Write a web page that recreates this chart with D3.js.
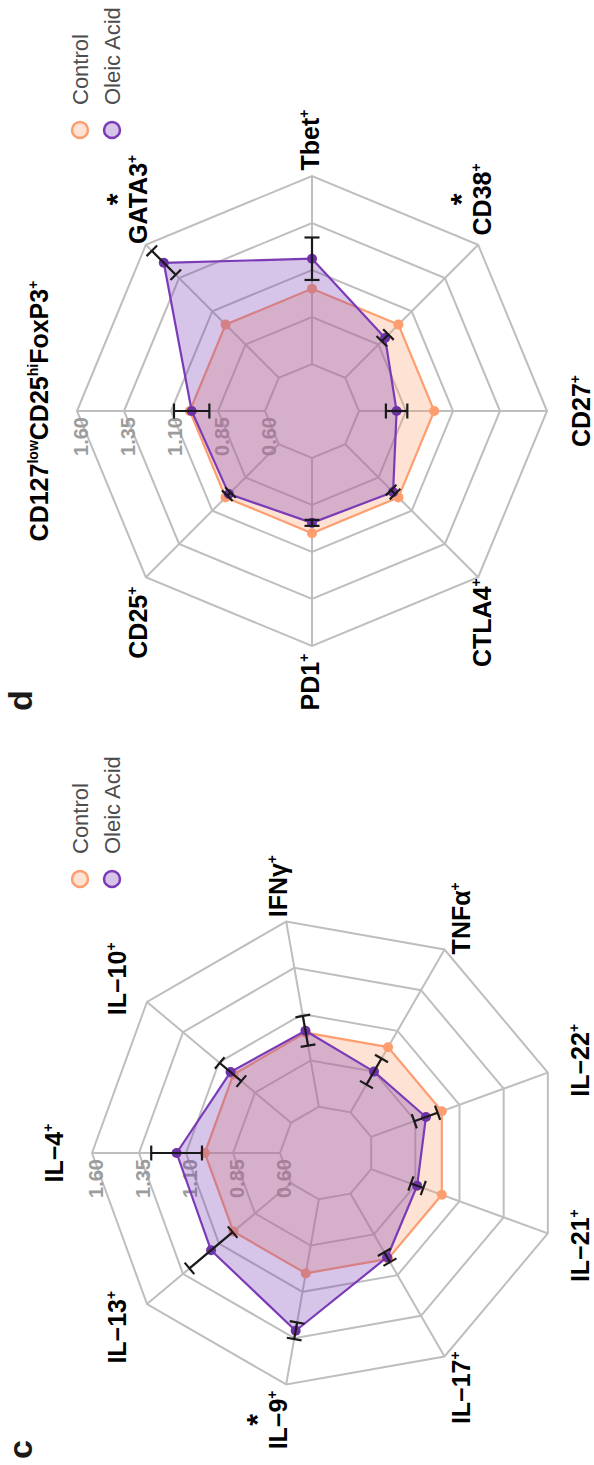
<!DOCTYPE html>
<html>
<head>
<meta charset="utf-8">
<script src="https://cdn.jsdelivr.net/npm/d3@7"></script>
<style>
  html, body { margin: 0; padding: 0; background: #fff; }
  svg { display: block; }
</style>
</head>
<body>
<script>
// Radial gridline values and their labels
const ticks = [0.60, 0.85, 1.10, 1.35, 1.60];
const tickLabels = ["0.60", "0.85", "1.10", "1.35", "1.60"];
const seriesNames = ["Control", "Oleic Acid"];

// Panel c: cytokine-producing cells (text segments alternate normal / superscript)
const cAxes = [["IL−4", "+"], ["IL−10", "+"], ["IFNγ", "+"], ["TNFα", "+"], ["IL−22", "+"],
               ["IL−21", "+"], ["IL−17", "+"], ["IL−9", "+"], ["IL−13", "+"]];
const cControl = [1.00, 1.00, 1.00, 1.00, 1.00, 1.00, 1.00, 1.00, 1.00];
const cOleic   = [1.15, 1.02, 1.01, 0.85, 0.91, 0.86, 0.99, 1.31, 1.155];
const cErr     = [0.135, 0.075, 0.08, 0.08, 0.066, 0.035, 0.03, 0.045, 0.15];
const cSig     = [false, false, false, false, false, false, false, true, false];

// Panel d: transcription factors and surface markers
const dAxes = [["CD127", "low", "CD25", "hi", "FoxP3", "+"], ["GATA3", "+"], ["Tbet", "+"],
               ["CD38", "+"], ["CD27", "+"], ["CTLA4", "+"], ["PD1", "+"], ["CD25", "+"]];
const dControl = [1.00, 1.00, 1.00, 1.00, 1.00, 1.00, 1.00, 1.00];
const dOleic   = [0.99, 1.465, 1.16, 0.90, 0.80, 0.96, 0.945, 0.975];
const dErr     = [0.094, 0.09, 0.113, 0.025, 0.057, 0.015, 0.016, 0.012];
const dSig     = [false, true, false, true, false, false, false, false];

// ---- drawing ----
const FONT = "'Liberation Sans', Arial, Helvetica, sans-serif";
const COL_CONTROL = "#FC9E6F";
const COL_OLEIC = "#7B3BB7";
const COL_OLEIC_PT = "#6D33A6";
const GRID = "#BEBEBE";

const PAGE_W = 594, PAGE_H = 1465;
const svg = d3.select("body").append("svg")
  .attr("width", PAGE_W).attr("height", PAGE_H);

// The figure is laid out landscape and turned a quarter turn counter-clockwise
const fig = svg.append("g")
  .attr("transform", `translate(0,${PAGE_H}) rotate(-90)`)
  .style("font-family", FONT);

const R = 235;
const rScale = d3.scaleLinear().domain([0.35, 1.60]).range([0, R]);

const LABEL_SIZE = 25, SUP_SIZE = 14, SUP_RISE = 10;

function addSegments(textSel, segs) {
  segs.forEach((s, i) => {
    const sup = i % 2 === 1;
    const t = textSel.append("tspan").text(s).attr("font-size", sup ? SUP_SIZE : LABEL_SIZE);
    if (sup) t.attr("dy", -SUP_RISE);
    else if (i > 0) t.attr("dy", SUP_RISE);
  });
}

function drawRadar(opts) {
  const { cx, cy, axes, control, oleic, err, sig, spread, legendX, tag, tagX } = opts;
  const n = axes.length;
  const angle = d3.scaleLinear().domain([0, n]).range([0, 2 * Math.PI]);
  const pt = (i, v) => {
    const a = angle(i), r = rScale(v);
    return [cx + r * Math.sin(a), cy - r * Math.cos(a)];
  };
  const g = fig.append("g");
  const idx = d3.range(n);

  // grid rings
  const ring = d3.line().curve(d3.curveLinearClosed);
  g.selectAll("path.ring").data(ticks).join("path")
    .attr("class", "ring")
    .attr("d", t => ring(idx.map(i => pt(i, t))))
    .attr("fill", "none").attr("stroke", GRID).attr("stroke-width", 2);

  // spokes
  g.selectAll("line.spoke").data(idx).join("line")
    .attr("class", "spoke")
    .attr("x1", i => pt(i, ticks[0])[0]).attr("y1", i => pt(i, ticks[0])[1])
    .attr("x2", i => pt(i, ticks[ticks.length - 1])[0]).attr("y2", i => pt(i, ticks[ticks.length - 1])[1])
    .attr("stroke", GRID).attr("stroke-width", 2);

  // radial tick labels along the first axis
  g.selectAll("text.tick").data(ticks).join("text")
    .attr("class", "tick")
    .attr("x", cx - 6)
    .attr("y", t => cy - rScale(t) + 11)
    .attr("text-anchor", "end")
    .attr("font-size", 20).attr("font-weight", "bold")
    .attr("fill", "#9C9C9C")
    .text((t, i) => tickLabels[i]);

  // series polygons
  const series = [
    { vals: control, col: COL_CONTROL, ptCol: COL_CONTROL },
    { vals: oleic, col: COL_OLEIC, ptCol: COL_OLEIC_PT }
  ];
  series.forEach(s => {
    const coords = idx.map(i => pt(i, s.vals[i]));
    g.append("path")
      .attr("d", ring(coords))
      .attr("fill", s.col).attr("fill-opacity", 0.3)
      .attr("stroke", s.col).attr("stroke-width", 2.2)
      .attr("stroke-linejoin", "round");
    g.selectAll(null).data(coords).join("circle")
      .attr("cx", d => d[0]).attr("cy", d => d[1]).attr("r", 5)
      .attr("fill", s.ptCol);
  });

  // error bars on the treated series, radial with perpendicular caps
  const cap = 7.5;
  idx.forEach(i => {
    const a = angle(i);
    const [x1, y1] = pt(i, oleic[i] - err[i]);
    const [x2, y2] = pt(i, oleic[i] + err[i]);
    const px = Math.cos(a) * cap, py = Math.sin(a) * cap;
    const eb = g.append("g").attr("stroke", "#1A1A1A").attr("stroke-width", 2.2);
    eb.append("line").attr("x1", x1).attr("y1", y1).attr("x2", x2).attr("y2", y2);
    eb.append("line").attr("x1", x1 - px).attr("y1", y1 - py).attr("x2", x1 + px).attr("y2", y1 + py);
    eb.append("line").attr("x1", x2 - px).attr("y1", y2 - py).attr("x2", x2 + px).attr("y2", y2 + py);
  });

  // axis labels
  const LR = 271;
  idx.forEach(i => {
    const a = angle(i);
    const dx = Math.sin(a), dy = -Math.cos(a);
    const lx = cx + dx * (LR + spread * Math.abs(dy));
    const ly = cy + dy * (LR - spread * Math.abs(dx));
    const t = g.append("text")
      .attr("x", lx).attr("y", ly + 7)
      .attr("text-anchor", "middle")
      .attr("font-weight", "bold")
      .attr("fill", "#000");
    addSegments(t, axes[i]);
    if (sig[i]) {
      g.append("text")
        .attr("x", lx).attr("y", ly - 30 + 17)
        .attr("text-anchor", "middle")
        .attr("font-size", 30).attr("font-weight", "bold")
        .attr("fill", "#000").text("*");
    }
  });

  // legend
  const legCols = [COL_CONTROL, COL_OLEIC];
  seriesNames.forEach((name, k) => {
    const y = 80 + k * 32;
    g.append("circle").attr("cx", legendX).attr("cy", y).attr("r", 8)
      .attr("fill", legCols[k]).attr("fill-opacity", 0.3)
      .attr("stroke", legCols[k]).attr("stroke-width", 2.5);
    g.append("text").attr("x", legendX + 25).attr("y", y + 8)
      .attr("font-size", 22).attr("fill", "#4D4D4D").text(name);
  });

  // panel tag
  g.append("text").attr("x", tagX).attr("y", 32)
    .attr("font-size", 34).attr("font-weight", "bold").attr("fill", "#1A1A1A")
    .text(tag);
}

drawRadar({ cx: 312, cy: 327, axes: cAxes, control: cControl, oleic: cOleic, err: cErr,
            sig: cSig, spread: 0, legendX: 586, tag: "c", tagX: 6 });
drawRadar({ cx: 1054, cy: 312, axes: dAxes, control: dControl, oleic: dOleic, err: dErr,
            sig: dSig, spread: 40, legendX: 1335, tag: "d", tagX: 754 });
</script>
</body>
</html>
